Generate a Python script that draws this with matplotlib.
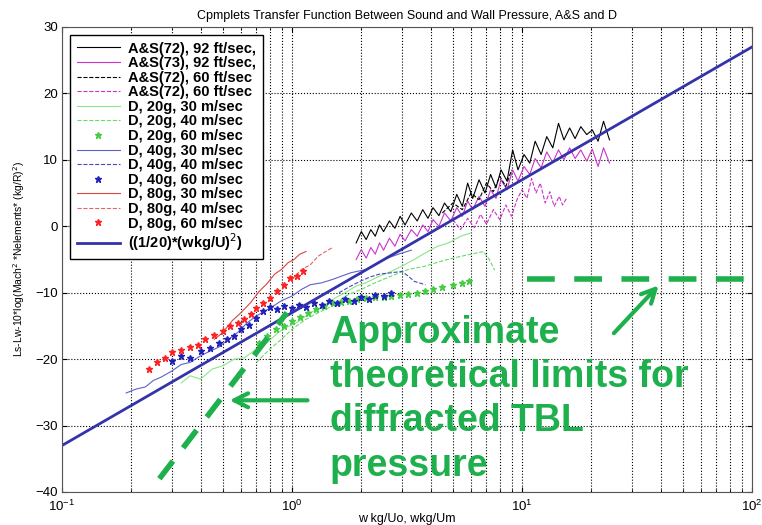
import matplotlib
matplotlib.use("Agg")
import matplotlib.pyplot as plt

plt.rcParams["font.family"] = ["Liberation Sans", "DejaVu Sans"]

# A&S(72), 92 ft/sec
as72_92_x = [1.9, 2.0, 2.1, 2.2, 2.3, 2.4, 2.5, 2.65, 2.8, 2.95, 3.1, 3.3, 3.5, 3.7, 3.9, 4.1,
             4.35, 4.6, 4.9, 5.2, 5.5, 5.8, 6.1, 6.5, 6.9, 7.3, 7.7, 8.1, 8.6, 9.1, 9.6, 10.2,
             10.8, 11.4, 12.1, 12.8, 13.6, 14.4, 15.2, 16.1, 17.0, 18.0, 19.1, 20.2, 21.4, 22.6, 24.0]
as72_92_y = [-2.5, -0.8, -2.0, -0.5, -1.5, 0.2, -0.8, 0.8, -0.3, 1.5, 0.2, 2.0, 0.8, 2.5, 1.2, 2.8,
             1.6, 3.5, 2.2, 4.8, 3.0, 6.5, 4.2, 7.0, 5.0, 7.8, 5.8, 8.5, 6.8, 11.5, 8.5, 10.8,
             9.5, 12.8, 10.8, 13.5, 11.8, 15.5, 13.0, 14.8, 13.2, 15.0, 13.8, 14.5, 12.8, 15.8, 13.0]

# A&S(73), 92 ft/sec
as73_92_x = as72_92_x
as73_92_y = [-5.0, -3.5, -4.8, -3.2, -4.2, -2.5, -3.6, -1.8, -3.0, -1.2, -2.2, -0.5, -1.5, 0.2, -0.8, 1.0,
             0.0, 2.0, 0.8, 2.8, 1.5, 3.8, 2.5, 4.5, 3.0, 5.5, 4.2, 7.0, 5.5, 8.5, 6.8, 9.0,
             7.8, 10.2, 8.8, 11.2, 9.6, 11.5, 10.0, 11.8, 10.2, 11.5, 9.8, 11.6, 9.0, 11.8, 9.5]

# A&S(72), 60 ft/sec (black dashed)
as72_60k_x = [4.5, 5.0, 5.5, 6.0, 6.5, 7.0, 7.5, 8.0, 8.5, 9.0]
as72_60k_y = [2.0, 3.5, 2.5, 5.0, 4.0, 6.5, 5.2, 7.5, 6.0, 8.5]

# A&S(72), 60 ft/sec (magenta dashed)
as72_60m_x = [5.0, 5.4, 5.8, 6.2, 6.6, 7.0, 7.5, 8.0, 8.5, 9.0, 9.5, 10.0, 10.5, 11.0, 11.5,
              12.0, 12.6, 13.2, 13.8, 14.5, 15.0, 15.6]
as72_60m_y = [1.0, -0.5, 1.2, -0.2, 1.8, 0.3, 2.5, 1.0, 3.2, 1.5, 4.0, 5.5, 4.2, 7.2, 5.0,
              6.5, 3.5, 5.2, 3.0, 4.5, 3.2, 4.2]

# D, 20g
d20_30_x = [0.33, 0.36, 0.40, 0.45, 0.50, 0.56, 0.62, 0.70, 0.78, 0.87, 0.95, 1.05, 1.2, 1.35,
            1.5, 1.7, 1.9, 2.1, 2.4, 2.7, 3.0, 3.4, 3.8, 4.3, 4.8, 5.4, 6.0]
d20_30_y = [-23.6, -22.5, -23.0, -21.5, -21.0, -20.0, -19.8, -18.5, -17.5, -16.0, -15.2, -14.5,
            -13.0, -12.2, -11.0, -10.0, -9.0, -8.5, -7.5, -6.8, -6.0, -5.0, -4.0, -3.0, -2.5, -1.5, -1.0]
d20_40_x = [0.70, 0.8, 0.9, 1.0, 1.15, 1.3, 1.5, 1.7, 2.0, 2.3, 2.7, 3.2, 3.8, 4.5, 5.3, 6.0,
            6.8, 7.2, 7.6]
d20_40_y = [-20.5, -18.5, -17.0, -15.5, -14.0, -13.0, -12.0, -10.5, -9.5, -8.5, -7.5, -6.5, -6.0,
            -5.2, -4.6, -4.2, -3.8, -5.0, -6.6]
d20_60_x = [0.72, 0.78, 0.85, 0.92, 1.0, 1.08, 1.17, 1.27, 1.38, 1.5, 1.63, 1.77, 1.92, 2.1,
            2.3, 2.5, 2.7, 2.95, 3.2, 3.5, 3.8, 4.1, 4.5, 5.0, 5.5, 5.9]
d20_60_y = [-17.5, -16.5, -15.5, -15.0, -14.3, -13.6, -13.0, -12.5, -12.0, -11.6, -11.4, -11.2,
            -11.0, -10.8, -10.7, -10.6, -10.5, -10.4, -10.2, -10.0, -9.8, -9.5, -9.2, -8.8, -8.5, -8.2]

# D, 40g
d40_30_x = [0.19, 0.21, 0.23, 0.25, 0.27, 0.30, 0.33, 0.36, 0.40, 0.44, 0.48, 0.53, 0.58, 0.64,
            0.70, 0.76, 0.83, 0.90, 1.0, 1.1, 1.2, 1.35, 1.5, 1.8, 2.1, 2.5, 2.9, 3.3]
d40_30_y = [-25.1, -24.5, -24.2, -23.2, -22.7, -21.8, -20.8, -20.5, -19.5, -18.8, -18.2, -17.0,
            -16.0, -14.5, -13.5, -12.8, -12.0, -11.2, -10.5, -9.5, -8.8, -8.5, -8.0, -7.0, -6.5,
            -5.0, -4.2, -3.6]
d40_40_x = [1.6, 1.8, 2.0, 2.2, 2.4, 2.7, 3.0, 3.2, 3.4, 3.8]
d40_40_y = [-10.0, -9.0, -8.2, -7.6, -7.2, -7.0, -6.8, -7.5, -8.3, -8.8]
d40_60_x = [0.30, 0.33, 0.36, 0.40, 0.44, 0.48, 0.52, 0.56, 0.60, 0.65, 0.70, 0.75, 0.80, 0.86,
            0.92, 1.0, 1.07, 1.15, 1.25, 1.35, 1.45, 1.57, 1.7, 1.85, 2.0, 2.15, 2.3, 2.5, 2.7]
d40_60_y = [-20.3, -19.5, -19.8, -18.8, -18.3, -17.5, -17.0, -16.5, -15.5, -14.8, -13.8, -12.8,
            -12.2, -12.5, -12.0, -12.3, -11.8, -12.1, -11.5, -11.8, -11.2, -11.5, -11.0, -11.2,
            -10.6, -10.9, -10.3, -10.5, -10.0]

# D, 80g
d80_30_x = [0.46, 0.50, 0.55, 0.60, 0.66, 0.72, 0.78, 0.84, 0.90, 0.96, 1.02, 1.08, 1.15]
d80_30_y = [-17.0, -16.0, -14.2, -13.0, -11.5, -9.8, -8.6, -7.2, -6.5, -5.5, -5.0, -4.2, -3.8]
d80_40_x = [1.0, 1.1, 1.2, 1.3, 1.4, 1.5]
d80_40_y = [-8.0, -6.5, -5.8, -4.5, -3.8, -3.2]
d80_60_x = [0.24, 0.26, 0.28, 0.30, 0.33, 0.36, 0.39, 0.42, 0.46, 0.50, 0.54, 0.58, 0.62, 0.66,
            0.70, 0.75, 0.80, 0.86, 0.92, 0.98, 1.05, 1.12]
d80_60_y = [-21.5, -20.5, -19.8, -19.0, -18.6, -18.2, -17.8, -17.0, -16.3, -15.8, -15.0, -14.5,
            -14.0, -13.2, -12.3, -11.6, -10.8, -9.8, -8.8, -7.8, -7.5, -6.8]

# ((1/20)*(wkg/U)^2) reference line
theory_x = [0.1, 100]
theory_y = [-33, 27]

# approximate theoretical limits (green dashed)
limit_diag_x = [0.265, 0.95]
limit_diag_y = [-38, -13]
limit_flat_x = [10.5, 100]
limit_flat_y = [-8, -8]

fig = plt.figure(figsize=(7.62, 5.25), dpi=100)
ax = fig.add_axes([0.0814, 0.0629, 0.9056, 0.8857])

lw = 0.8
ax.plot(as72_92_x, as72_92_y, color="black", lw=lw, label="A&S(72), 92 ft/sec,")
ax.plot(as73_92_x, as73_92_y, color="#cc33cc", lw=lw, label="A&S(73), 92 ft/sec,")
ax.plot(as72_60k_x, as72_60k_y, color="black", lw=lw, ls="--", label="A&S(72), 60 ft/sec")
ax.plot(as72_60m_x, as72_60m_y, color="#cc33cc", lw=lw, ls="--", label="A&S(72), 60 ft/sec")
ax.plot(d20_30_x, d20_30_y, color="#88e888", lw=lw, label="D, 20g, 30 m/sec")
ax.plot(d20_40_x, d20_40_y, color="#66dd66", lw=lw, ls="--", label="D, 20g, 40 m/sec")
ax.plot(d20_60_x, d20_60_y, color="#44cc44", ls="none", marker="*", ms=5, label="D, 20g, 60 m/sec")
ax.plot(d40_30_x, d40_30_y, color="#6060cc", lw=lw, label="D, 40g, 30 m/sec")
ax.plot(d40_40_x, d40_40_y, color="#4848bb", lw=lw, ls="--", label="D, 40g, 40 m/sec")
ax.plot(d40_60_x, d40_60_y, color="#2222bb", ls="none", marker="*", ms=5, label="D, 40g, 60 m/sec")
ax.plot(d80_30_x, d80_30_y, color="#dd4444", lw=lw, label="D, 80g, 30 m/sec")
ax.plot(d80_40_x, d80_40_y, color="#dd6666", lw=lw, ls="--", label="D, 80g, 40 m/sec")
ax.plot(d80_60_x, d80_60_y, color="#ff2222", ls="none", marker="*", ms=5, label="D, 80g, 60 m/sec")
ax.plot(theory_x, theory_y, color="#3333aa", lw=2, label="((1/20)*(wkg/U)$^2$)")

green = "#1fb04e"
ax.plot(limit_diag_x, limit_diag_y, color=green, lw=4, ls=(0, (4, 3)))
ax.plot(limit_flat_x, limit_flat_y, color=green, lw=4, ls=(0, (5, 3.5)))

ax.annotate("", xy=(0.52, -26.2), xytext=(1.2, -26.2),
            arrowprops=dict(arrowstyle="->", color=green, lw=3, mutation_scale=25))
ax.annotate("", xy=(40, -8.6), xytext=(24.6, -16.4),
            arrowprops=dict(arrowstyle="->", color=green, lw=3, mutation_scale=25))

ax.text(1.46, -13.3, "Approximate\ntheoretical limits for\ndiffracted TBL\npressure",
        color=green, fontsize=27, fontweight="bold",
        va="top", ha="left", linespacing=1.3)

ax.set_xscale("log")
ax.set_xlim(0.1, 100)
ax.set_ylim(-40, 30)
ax.grid(True, which="major", axis="both", ls=":", color="black", lw=0.8)
ax.grid(True, which="minor", axis="x", ls=":", color="black", lw=0.8)
ax.set_axisbelow(True)
ax.tick_params(which="both", direction="in", top=True, right=True, labelsize=9.5)
ax.tick_params(axis="x", pad=5)
ax.tick_params(axis="y", pad=3)
for s in ax.spines.values():
    s.set_color("#555555")

ax.set_title("Cpmplets Transfer Function Between Sound and Wall Pressure, A&S and D",
             fontsize=9, pad=6)
ax.set_xlabel("w kg/Uo, wkg/Um", fontsize=9, labelpad=-1)
ax.set_ylabel("Ls-Lw-10*log(Mach$^2$ *Nelements* (kg/R)$^2$)", fontsize=7.5, labelpad=6)

leg = ax.legend(loc="upper left", prop={"size": 10.5, "weight": "bold"}, handlelength=3.0,
                fancybox=False, edgecolor="black", framealpha=1, borderaxespad=0.55,
                labelspacing=0.04, handletextpad=0.55, borderpad=0.45)
leg.get_frame().set_linewidth(1.0)

fig.savefig("out.png", dpi=100)
